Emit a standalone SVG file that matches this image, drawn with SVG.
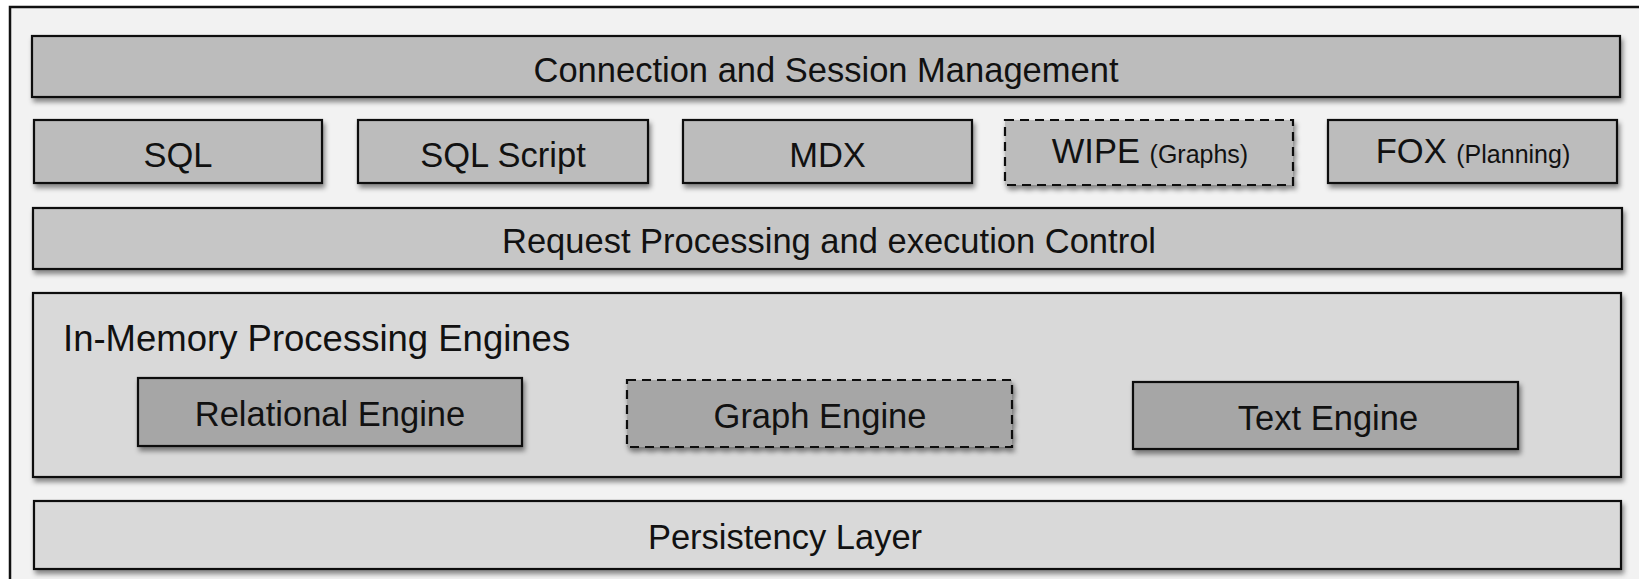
<svg xmlns="http://www.w3.org/2000/svg" width="1639" height="579" viewBox="0 0 1639 579">
  <defs>
    <filter id="shadow" x="-5%" y="-20%" width="110%" height="150%">
      <feDropShadow dx="2" dy="4" stdDeviation="2.5" flood-color="#000" flood-opacity="0.45"/>
    </filter>
    <style>
      .box { stroke: #111; stroke-width: 2.2; filter: url(#shadow); }
      .dashed { stroke-dasharray: 9 6; }
      .dark { fill: #bcbcbc; }
      .mid { fill: #c6c6c6; }
      .light { fill: #d9d9d9; }
      .engine { fill: #a6a6a6; }
      text { font-family: "Liberation Sans", Arial, sans-serif; fill: #111; }
      .lbl { font-size: 34.5px; text-anchor: middle; }
      .sub { font-size: 25px; }
    </style>
  </defs>

  <rect x="0" y="0" width="1639" height="579" fill="#ffffff"/>
  <!-- outer frame -->
  <rect x="10" y="7" width="1660" height="600" fill="#f2f2f2" stroke="#111" stroke-width="2.5"/>

  <g id="connection-session">
    <rect class="box dark" x="32" y="36" width="1588" height="61"/>
    <text class="lbl" x="826" y="82">Connection and Session Management</text>
  </g>

  <g id="sql">
    <rect class="box dark" x="34" y="120" width="288" height="63"/>
    <text class="lbl" x="178" y="167">SQL</text>
  </g>
  <g id="sql-script">
    <rect class="box dark" x="358" y="120" width="290" height="63"/>
    <text class="lbl" x="503" y="167">SQL Script</text>
  </g>
  <g id="mdx">
    <rect class="box dark" x="683" y="120" width="289" height="63"/>
    <text class="lbl" x="827.5" y="167">MDX</text>
  </g>
  <g id="wipe">
    <rect class="box dark dashed" x="1005" y="120" width="288" height="65"/>
    <text class="lbl" x="1150" y="163">WIPE <tspan class="sub">(Graphs)</tspan></text>
  </g>
  <g id="fox">
    <rect class="box dark" x="1328" y="120" width="289" height="63"/>
    <text class="lbl" x="1473" y="163">FOX <tspan class="sub">(Planning)</tspan></text>
  </g>

  <g id="request-processing">
    <rect class="box mid" x="33" y="208" width="1589" height="61"/>
    <text class="lbl" x="829" y="253">Request Processing and execution Control</text>
  </g>

  <g id="in-memory-engines">
    <rect class="box light" x="33" y="293" width="1588" height="184"/>
    <text x="63" y="351" font-size="36.5">In-Memory Processing Engines</text>
  </g>
  <g id="relational-engine">
    <rect class="box engine" x="138" y="378" width="384" height="68"/>
    <text class="lbl" x="330" y="426">Relational Engine</text>
  </g>
  <g id="graph-engine">
    <rect class="box engine dashed" x="627" y="380" width="385" height="67"/>
    <text class="lbl" x="820" y="428">Graph Engine</text>
  </g>
  <g id="text-engine">
    <rect class="box engine" x="1133" y="382" width="385" height="67"/>
    <text class="lbl" x="1328" y="430">Text Engine</text>
  </g>

  <g id="persistency-layer">
    <rect class="box light" x="34" y="501" width="1587" height="68"/>
    <text class="lbl" x="785" y="549">Persistency Layer</text>
  </g>

  <g id="connectors"></g>
</svg>
